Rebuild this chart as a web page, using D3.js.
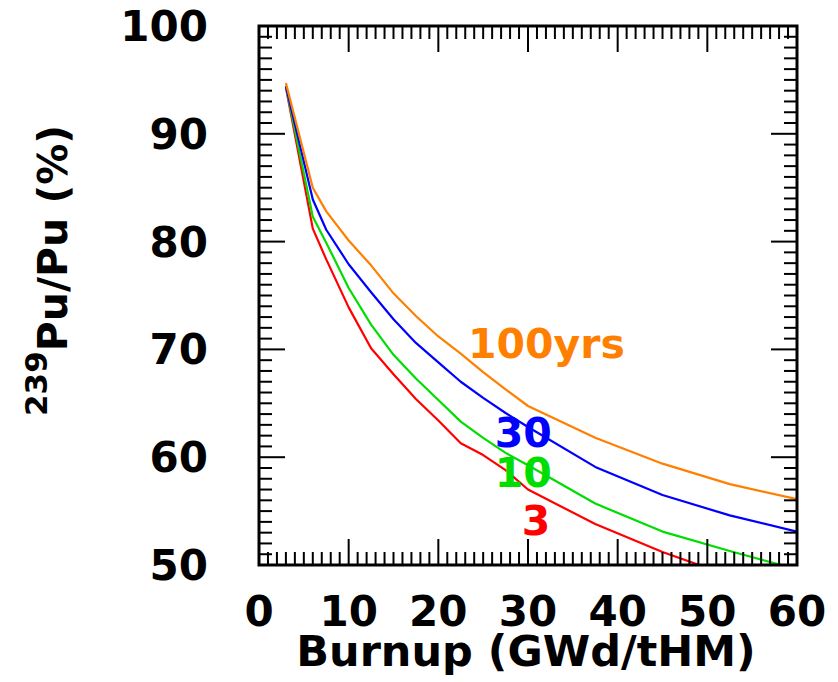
<!DOCTYPE html>
<html>
<head>
<meta charset="utf-8">
<script src="https://cdn.jsdelivr.net/npm/d3@7/dist/d3.min.js"></script>
<style>
  html, body { margin: 0; padding: 0; background: #fff; }
  svg { display: block; }
  text { font-family: "DejaVu Sans", sans-serif; font-weight: bold; }
</style>
</head>
<body>
<svg id="chart" width="838" height="682"></svg>
<script>
// ---- data ----
const burnup = [3, 6, 7.5, 10, 12.5, 15, 17.5, 20, 22.5, 25, 27.5, 30, 37.5, 45, 52.5, 60];
const cool100 = [94.7, 85.0, 82.8, 80.1, 77.8, 75.2, 73.1, 71.2, 69.6, 67.9, 66.3, 64.75, 61.8, 59.4, 57.5, 56.1];
const cool30  = [94.4, 83.9, 81.1, 77.9, 75.3, 72.8, 70.6, 68.8, 67.0, 65.5, 64.1, 62.8, 59.1, 56.5, 54.6, 53.1];
const cool10  = [94.4, 82.3, 79.9, 75.7, 72.3, 69.5, 67.3, 65.3, 63.3, 61.8, 60.4, 59.25, 55.7, 53.1, 51.3, 49.6];
const cool3   = [94.3, 81.2, 78.35, 73.9, 70.1, 67.7, 65.4, 63.4, 61.3, 60.2, 58.8, 57.0, 53.8, 51.2, 49.0, 46.9];
const seriesNames = ["100yrs", "30", "10", "3"];
const xTickLabels = [0, 10, 20, 30, 40, 50, 60];
const yTickLabels = [50, 60, 70, 80, 90, 100];

// ---- layout ----
const svg = d3.select("#chart");
const L = 259, R = 797, T = 26, B = 565;
const x = d3.scaleLinear().domain([0, 60]).range([L, R]);
const y = d3.scaleLinear().domain([50, 100]).range([B, T]);

const colors = ["#ff7f00", "#0000ff", "#00dd00", "#ff0000"];
const seriesVals = [cool100, cool30, cool10, cool3];

svg.append("clipPath").attr("id", "clip")
  .append("rect").attr("x", L).attr("y", T).attr("width", R - L).attr("height", B - T);

// curves
const line = d3.line().x((d, i) => x(burnup[i])).y(d => y(d));
const gLines = svg.append("g").attr("clip-path", "url(#clip)");
[3, 2, 1, 0].forEach(k => {
  gLines.append("path")
    .datum(seriesVals[k])
    .attr("d", line)
    .attr("fill", "none")
    .attr("stroke", colors[k])
    .attr("stroke-width", 2.2)
    .attr("stroke-linejoin", "round");
});

// ticks (inward, all four sides)
const xMinor = d3.range(0, 61, 1);
const yMinor = d3.range(50, 101, 1);
const gT = svg.append("g").attr("stroke", "#000").attr("stroke-width", 2);
xMinor.forEach(v => {
  const len = v % 10 === 0 ? 26 : 13;
  gT.append("line").attr("x1", x(v)).attr("x2", x(v)).attr("y1", B).attr("y2", B - len);
  gT.append("line").attr("x1", x(v)).attr("x2", x(v)).attr("y1", T).attr("y2", T + len);
});
yMinor.forEach(v => {
  const len = v % 10 === 0 ? 26 : 13;
  gT.append("line").attr("x1", L).attr("x2", L + len).attr("y1", y(v)).attr("y2", y(v));
  gT.append("line").attr("x1", R).attr("x2", R - len).attr("y1", y(v)).attr("y2", y(v));
});

// frame
svg.append("rect").attr("x", L).attr("y", T).attr("width", R - L).attr("height", B - T)
  .attr("fill", "none").attr("stroke", "#000").attr("stroke-width", 3);

// tick labels
svg.append("g").selectAll("text").data(xTickLabels).join("text")
  .attr("x", d => x(d)).attr("y", 626)
  .attr("text-anchor", "middle").attr("font-size", 42).attr("fill", "#000")
  .text(d => d);
svg.append("g").selectAll("text").data(yTickLabels).join("text")
  .attr("x", 208).attr("y", d => y(d) + 15)
  .attr("text-anchor", "end").attr("font-size", 42).attr("fill", "#000")
  .text(d => d);

// axis titles
svg.append("text").attr("x", (L + R) / 2 - 2).attr("y", 666)
  .attr("text-anchor", "middle").attr("font-size", 43).attr("fill", "#000")
  .text("Burnup (GWd/tHM)");

const yt = svg.append("text")
  .attr("transform", "translate(67,416) rotate(-90)")
  .attr("text-anchor", "start").attr("fill", "#000");
yt.append("tspan").attr("font-size", 31).attr("dy", -20).text("239");
yt.append("tspan").attr("font-size", 41).attr("dy", 20).text("Pu/Pu (%)");

// series labels
const labelPos = [
  { xv: 23.3, yv: 358 },
  { xv: 26.3, yv: 447 },
  { xv: 26.3, yv: 487 },
  { xv: 29.3, yv: 535 }
];
svg.append("g").selectAll("text").data(seriesNames).join("text")
  .attr("x", (d, i) => x(labelPos[i].xv)).attr("y", (d, i) => labelPos[i].yv)
  .attr("font-size", 41).attr("fill", (d, i) => colors[i])
  .text(d => d);
</script>
</body>
</html>
